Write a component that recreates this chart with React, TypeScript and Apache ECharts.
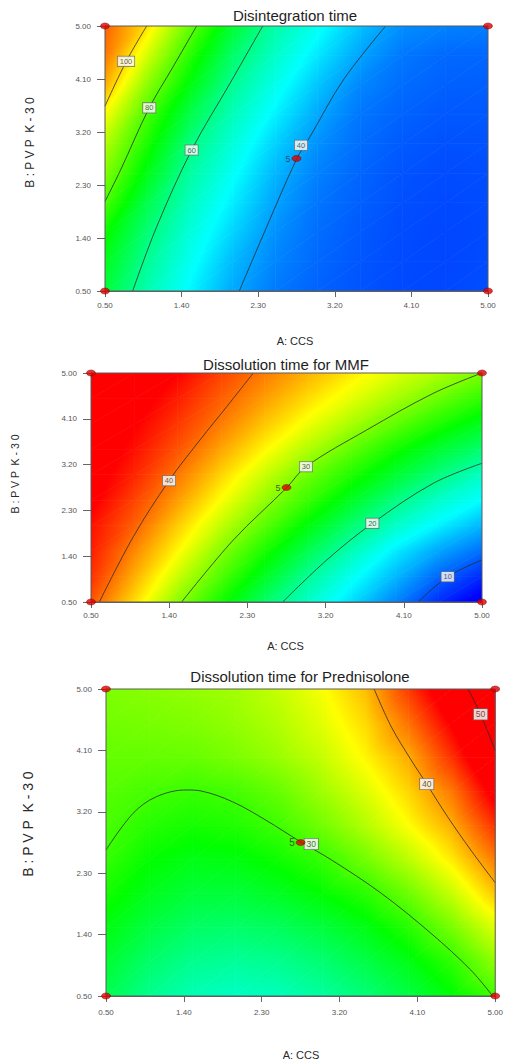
import React, { useEffect, useRef } from "react";
import * as echarts from "echarts";

const FONT = "'Liberation Sans', Arial, sans-serif";

// ---------- shared factors / design ----------
const nodeA = [0.5, 1.0, 1.5, 2.0, 2.5, 3.0, 3.5, 4.0, 4.5, 5.0];
const nodeB = [0.5, 1.0, 1.5, 2.0, 2.5, 3.0, 3.5, 4.0, 4.5, 5.0];
const tickValues = [0.5, 1.4, 2.3, 3.2, 4.1, 5.0];
const designA = [0.5, 5.0, 0.5, 5.0, 2.75];
const designB = [0.5, 0.5, 5.0, 5.0, 2.75];
const designTag = ["", "", "", "", "5"];
const titles = ["Disintegration time", "Dissolution time for MMF", "Dissolution time for Prednisolone"];
const xAxisName = "A: CCS";
const yAxisName = "B : P V P  K - 3 0";

// ---------- chart 1: Disintegration time (rows B=0.5 .. 5.0, columns A=0.5 .. 5.0) ----------
const disintegrationGrid = [
  [67.5, 56.3, 48.2, 40.9, 36.4, 34.2, 32.8, 31.9, 31.7, 32.3],
  [70.5, 59.0, 50.3, 42.5, 37.5, 34.8, 33.1, 32.0, 31.6, 32.1],
  [74.0, 62.0, 52.5, 45.0, 38.6, 35.3, 33.4, 32.1, 31.6, 32.0],
  [80.0, 65.9, 55.0, 47.4, 40.3, 36.0, 33.9, 32.4, 31.8, 32.1],
  [85.2, 70.9, 57.9, 49.9, 42.1, 37.1, 34.5, 32.8, 32.1, 32.3],
  [90.0, 75.3, 61.3, 52.6, 44.7, 38.6, 35.3, 33.4, 32.6, 32.7],
  [96.5, 79.6, 66.2, 55.7, 47.8, 40.8, 36.1, 34.2, 33.3, 33.3],
  [104.7, 86.1, 71.7, 59.2, 51.0, 43.5, 37.7, 35.2, 34.0, 33.9],
  [110.0, 92.8, 76.7, 63.4, 54.2, 46.8, 40.3, 36.2, 34.8, 34.6],
  [112.0, 99.6, 82.5, 68.5, 57.4, 50.2, 43.3, 38.4, 37.2, 36.8],
];
const disintegrationRange = [25, 121];
const disint100 = [[0.99, 5.0], [0.75, 4.4], [0.5, 3.64]];
const disint80 = [[1.577, 5.0], [1.297, 4.3], [1.02, 3.61], [0.683, 2.555], [0.5, 2.02]];
const disint60 = [[2.353, 5.0], [1.969, 4.027], [1.518, 2.894], [1.107, 1.59], [0.825, 0.5]];
const disint40 = [[3.798, 5.0], [3.3, 4.083], [2.909, 3.12], [2.752, 2.742], [2.4, 1.59], [2.078, 0.5]];
const disintLabels = [[0.747, 4.4, "100"], [1.02, 3.61, "80"], [1.518, 2.894, "60"], [2.803, 2.974, "40"]];

// ---------- chart 2: Dissolution time for MMF ----------
const mmfGrid = [
  [41.0, 36.0, 30.5, 26.1, 21.8, 18.2, 15.0, 11.8, 8.6, 6.2],
  [42.3, 37.7, 32.8, 28.3, 24.2, 20.1, 16.8, 13.7, 10.7, 8.5],
  [43.0, 39.1, 34.9, 30.3, 26.4, 22.6, 18.9, 15.6, 13.0, 11.0],
  [43.5, 40.5, 36.6, 32.5, 28.7, 25.1, 21.5, 18.3, 15.8, 13.6],
  [44.5, 41.6, 38.3, 34.6, 30.8, 27.5, 24.2, 20.9, 18.2, 16.2],
  [45.0, 42.7, 39.7, 36.3, 32.8, 29.4, 26.6, 23.8, 21.0, 18.4],
  [45.5, 43.5, 41.0, 38.0, 35.0, 31.9, 28.9, 26.2, 23.7, 21.5],
  [46.0, 44.2, 42.0, 39.5, 36.8, 34.2, 31.6, 29.0, 26.6, 24.4],
  [47.0, 45.0, 43.0, 40.6, 38.3, 36.0, 33.8, 31.5, 29.3, 27.2],
  [48.0, 46.0, 44.0, 41.6, 39.5, 37.5, 35.5, 33.6, 31.8, 30.0],
];
const mmfRange = [7, 44];
const mmf40 = [[2.368, 5.0], [2.062, 4.338], [1.754, 3.684], [1.398, 2.884], [0.987, 1.783], [0.596, 0.5]];
const mmf30 = [[5.0, 5.0], [4.44, 4.601], [3.673, 3.88], [2.974, 3.159], [2.752, 2.746], [2.138, 1.718], [1.543, 0.5]];
const mmf20 = [[5.0, 3.226], [4.44, 2.833], [3.738, 2.046], [3.213, 1.325], [2.706, 0.5]];
const mmf10 = [[5.0, 1.325], [4.605, 0.997], [4.267, 0.5]];
const mmfLabels = [[1.398, 2.884, "40"], [2.974, 3.159, "30"], [3.738, 2.046, "20"], [4.605, 0.997, "10"]];

// ---------- chart 3: Dissolution time for Prednisolone ----------
const prednisoloneGrid = [
  [25.2, 23.0, 21.6, 21.1, 21.4, 22.4, 23.8, 25.6, 27.8, 30.2],
  [26.3, 24.3, 23.0, 22.6, 23.0, 24.0, 25.5, 27.3, 29.6, 33.0],
  [27.5, 25.7, 24.5, 24.3, 24.8, 25.9, 27.3, 29.3, 32.2, 35.8],
  [28.7, 27.0, 26.0, 26.0, 26.8, 28.0, 29.4, 31.8, 35.0, 39.0],
  [29.8, 28.1, 27.3, 27.5, 28.5, 29.8, 32.0, 34.6, 37.7, 41.7],
  [30.5, 29.3, 28.7, 29.1, 30.2, 32.0, 34.3, 37.0, 39.9, 44.3],
  [31.0, 30.4, 29.95, 30.4, 31.6, 33.6, 35.8, 38.5, 41.8, 46.9],
  [31.5, 31.5, 31.6, 32.3, 33.4, 35.0, 37.3, 40.0, 44.3, 49.4],
  [32.0, 32.2, 32.5, 33.2, 34.3, 36.0, 38.3, 42.0, 46.3, 51.2],
  [32.5, 32.8, 33.2, 33.8, 35.0, 36.8, 39.3, 44.0, 48.3, 52.8],
];
const prednisoloneRange = [10, 46];
const pred30 = [[0.5, 2.64], [0.813, 3.178], [1.082, 3.421], [1.426, 3.52], [1.599, 3.505], [1.961, 3.348], [2.345, 3.08], [2.746, 2.762], [3.109, 2.493], [3.683, 2.005], [4.257, 1.419], [4.717, 0.881], [4.97, 0.5]];
const pred40 = [[3.6, 5.0], [3.798, 4.447], [4.028, 3.959], [4.208, 3.607], [4.449, 3.128], [4.717, 2.64], [5.0, 2.161]];
const pred50 = [[4.686, 5.0], [4.831, 4.629], [5.0, 4.096]];
const predLabels = [[2.873, 2.728, "30"], [4.208, 3.607, "40"], [4.831, 4.629, "50"]];

// ---------- colour ramp ----------
const rampStops = [0, 0.25, 0.5, 0.75, 1];
const rampColors = [[0, 0, 255], [0, 255, 255], [0, 255, 0], [255, 255, 0], [255, 0, 0]];

function rampColor(v: number, lo: number, hi: number) {
  let t = (v - lo) / (hi - lo);
  t = Math.max(0, Math.min(1, t));
  const k = Math.min(3, Math.floor(t * 4));
  const f = t * 4 - k;
  const c0 = rampColors[k];
  const c1 = rampColors[k + 1];
  const r = Math.round(c0[0] + (c1[0] - c0[0]) * f);
  const g = Math.round(c0[1] + (c1[1] - c0[1]) * f);
  const b = Math.round(c0[2] + (c1[2] - c0[2]) * f);
  return `rgb(${r},${g},${b})`;
}

function triangleFill(P: number[][], V: number[], lo: number, hi: number): any {
  const ax = P[1][0] - P[0][0], ay = P[1][1] - P[0][1];
  const bx = P[2][0] - P[0][0], by = P[2][1] - P[0][1];
  const d1 = V[1] - V[0], d2 = V[2] - V[0];
  const det = ax * by - ay * bx;
  if (Math.abs(det) < 1e-9) return rampColor(V[0], lo, hi);
  const gx = (d1 * by - ay * d2) / det;
  const gy = (ax * d2 - bx * d1) / det;
  const gl = Math.hypot(gx, gy);
  if (gl < 1e-9) return rampColor(V[0], lo, hi);
  const ux = gx / gl, uy = gy / gl;
  const s = P.map((q) => (q[0] - P[0][0]) * ux + (q[1] - P[0][1]) * uy);
  const s0 = Math.min(...s), s1 = Math.max(...s);
  const v0 = V[0] + gl * s0, v1 = V[0] + gl * s1;
  if (v1 - v0 < 1e-6) return rampColor(V[0], lo, hi);
  const stops: any[] = [{ offset: 0, color: rampColor(v0, lo, hi) }];
  for (let k = 0; k < rampStops.length; k++) {
    const vb = lo + rampStops[k] * (hi - lo);
    if (vb > v0 && vb < v1) stops.push({ offset: (vb - v0) / (v1 - v0), color: rampColor(vb, lo, hi) });
  }
  stops.push({ offset: 1, color: rampColor(v1, lo, hi) });
  return new echarts.graphic.LinearGradient(
    P[0][0] + ux * s0, P[0][1] + uy * s0, P[0][0] + ux * s1, P[0][1] + uy * s1, stops, true
  );
}

// ---------- layout ----------
const panels = [
  {
    grid: { left: 105, top: 26, width: 383, height: 265 },
    title: [295, 15], xName: [295, 341], yName: [30, 142.5], yNameSize: 12,
    xLabelMargin: 10, boxFont: 7.5, tagFont: 9,
    values: disintegrationGrid, range: disintegrationRange,
    contours: [disint100, disint80, disint60, disint40], labels: disintLabels,
  },
  {
    grid: { left: 91, top: 373, width: 391, height: 229 },
    title: [286, 364], xName: [285.5, 646], yName: [15, 474], yNameSize: 10.5,
    xLabelMargin: 9, boxFont: 7.5, tagFont: 9,
    values: mmfGrid, range: mmfRange,
    contours: [mmf40, mmf30, mmf20, mmf10], labels: mmfLabels,
  },
  {
    grid: { left: 106, top: 689, width: 392, height: 307 },
    title: [300, 676], xName: [301, 1055], yName: [28, 824], yNameSize: 14,
    xLabelMargin: 12, boxFont: 8.5, tagFont: 10,
    values: prednisoloneGrid, range: prednisoloneRange,
    contours: [pred30, pred40, pred50], labels: predLabels,
  },
];

function buildOption() {
  const series: any[] = [];
  const graphic: any[] = [];
  panels.forEach((p, k) => {
    const cells: number[][] = [];
    for (let j = 0; j < nodeB.length - 1; j++)
      for (let i = 0; i < nodeA.length - 1; i++) cells.push([nodeA[i], nodeB[j], i, j]);
    const lo = p.range[0], hi = p.range[1];
    series.push({
      type: "custom", xAxisIndex: k, yAxisIndex: k, data: cells, encode: { x: 0, y: 1 },
      silent: true, clip: true, z: 1,
      renderItem: (params: any, api: any) => {
        const i = api.value(2), j = api.value(3);
        const corners = [[i, j], [i + 1, j], [i + 1, j + 1], [i, j + 1]];
        const P = corners.map(([a, b]) => api.coord([nodeA[a], nodeB[b]]));
        const V = corners.map(([a, b]) => p.values[b][a]);
        const tri = (ids: number[]) => {
          const pts = ids.map((n) => P[n]);
          const vals = ids.map((n) => V[n]);
          return {
            type: "polygon",
            shape: { points: pts },
            style: { fill: triangleFill(pts, vals, lo, hi), stroke: triangleFill(pts, vals, lo, hi), lineWidth: 0.7 },
          };
        };
        return { type: "group", children: [tri([0, 1, 2]), tri([0, 2, 3])] };
      },
    });
    p.contours.forEach((c) => {
      series.push({
        type: "line", xAxisIndex: k, yAxisIndex: k, data: c, smooth: 0.35, symbol: "none",
        silent: true, z: 3, lineStyle: { color: "#2c2c2c", width: 0.8 },
      });
    });
    series.push({
      type: "custom", xAxisIndex: k, yAxisIndex: k, data: [[nodeA[0], nodeB[0]]], encode: { x: 0, y: 1 },
      silent: true, clip: false, z: 4,
      renderItem: (params: any, api: any) => {
        const a = api.coord([nodeA[0], nodeB[nodeB.length - 1]]);
        const b = api.coord([nodeA[nodeA.length - 1], nodeB[0]]);
        return {
          type: "rect",
          shape: { x: a[0], y: a[1], width: b[0] - a[0], height: b[1] - a[1] },
          style: { fill: "none", stroke: "#5a5a5a", lineWidth: 1 },
        };
      },
    });
    series.push({
      type: "scatter", xAxisIndex: k, yAxisIndex: k, silent: true, clip: false, z: 5,
      data: p.labels.map((l) => [l[0], l[1]]),
      symbol: "rect", symbolSize: 1, itemStyle: { color: "rgba(0,0,0,0)" },
      label: {
        show: true, position: "inside", formatter: (q: any) => String(p.labels[q.dataIndex][2]),
        fontSize: p.boxFont, fontFamily: FONT, color: "#333", backgroundColor: "#ffffff",
        borderColor: "#6a6a6a", borderWidth: 0.8, padding: [1, 2, 0, 2], lineHeight: p.boxFont + 1,
      },
    });
    series.push({
      type: "scatter", xAxisIndex: k, yAxisIndex: k, silent: true, clip: false, z: 6,
      data: designA.map((a, n) => [a, designB[n]]),
      symbol: "circle", symbolSize: [9, 6],
      itemStyle: { color: "#dc0000", borderColor: "#7a0000", borderWidth: 0.6 },
      label: {
        show: true, position: "left", distance: 1, formatter: (q: any) => designTag[q.dataIndex],
        fontSize: p.tagFont, fontFamily: FONT, color: "#333",
      },
    });
    graphic.push({
      type: "text", x: p.title[0], y: p.title[1], silent: true,
      style: { text: titles[k], font: `15px ${FONT}`, fill: "#1e1e1e", align: "center", verticalAlign: "middle" },
    });
    graphic.push({
      type: "text", x: p.xName[0], y: p.xName[1], silent: true,
      style: { text: xAxisName, font: `11px ${FONT}`, fill: "#2a2a2a", align: "center", verticalAlign: "middle" },
    });
    graphic.push({
      type: "text", x: p.yName[0], y: p.yName[1], rotation: Math.PI / 2, silent: true,
      style: { text: yAxisName, font: `${p.yNameSize}px ${FONT}`, fill: "#2a2a2a", align: "center", verticalAlign: "middle" },
    });
  });

  return {
    animation: false,
    backgroundColor: "#ffffff",
    grid: panels.map((p) => ({ ...p.grid, containLabel: false })),
    xAxis: panels.map((p, k) => ({
      type: "value", gridIndex: k, min: 0.5, max: 5.0,
      axisLine: { show: true, onZero: false, lineStyle: { color: "#666", width: 1 } },
      axisTick: { show: true, customValues: tickValues, length: 6, lineStyle: { color: "#666" } },
      axisLabel: {
        customValues: tickValues, formatter: (v: number) => v.toFixed(2),
        fontSize: 8, color: "#555", margin: p.xLabelMargin, fontFamily: FONT,
      },
      splitLine: { show: false },
    })),
    yAxis: panels.map((p, k) => ({
      type: "value", gridIndex: k, min: 0.5, max: 5.0,
      axisLine: { show: true, onZero: false, lineStyle: { color: "#666", width: 1 } },
      axisTick: { show: true, customValues: tickValues, length: 8, lineStyle: { color: "#666" } },
      axisLabel: {
        customValues: tickValues, formatter: (v: number) => v.toFixed(2),
        fontSize: 8, color: "#555", margin: 14, fontFamily: FONT,
      },
      splitLine: { show: false },
    })),
    graphic,
    series,
  };
}

export default function App() {
  const ref = useRef<HTMLDivElement>(null);
  useEffect(() => {
    if (!ref.current) return;
    const chart = echarts.init(ref.current, null, { renderer: "svg" });
    chart.setOption(buildOption() as any);
    return () => chart.dispose();
  }, []);
  return (
    <div
      ref={ref}
      style={{ position: "absolute", left: 0, top: 0, width: 506, height: 1063, background: "#fff" }}
    />
  );
}
